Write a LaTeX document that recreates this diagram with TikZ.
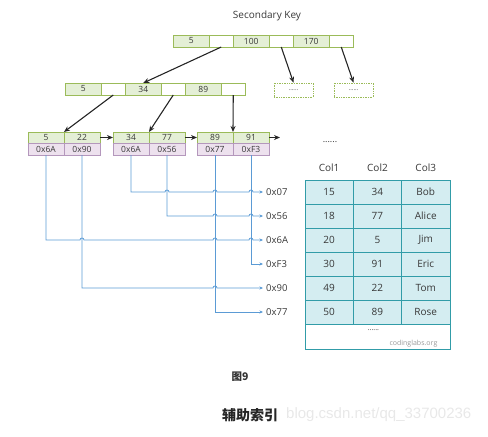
\documentclass[tikz,border=0pt]{standalone}
\usepackage{fontspec}
\setmainfont{Open Sans}
\newfontfamily\cjkfont{Noto Sans CJK SC}
\newfontfamily\markfont{Liberation Sans}
\usetikzlibrary{arrows.meta,positioning,calc}
\definecolor{keygreen}{HTML}{E4EFD6}
\definecolor{keygreendark}{HTML}{9BBB59}
\definecolor{ptrlilac}{HTML}{EDE1EE}
\definecolor{ptrlilacdark}{HTML}{B497BC}
\definecolor{rowcyan}{HTML}{D4EDF1}
\definecolor{rowcyandark}{HTML}{319CA8}
\definecolor{ptrblue}{HTML}{5B9BD5}
\definecolor{inkgray}{HTML}{383838}

\begin{document}
\begin{tikzpicture}[x=1pt, y=-1pt,
    font=\fontsize{8.5}{9}\selectfont, text=inkgray,
    keycell/.style={draw=keygreendark, fill=keygreen, line width=0.6pt, inner sep=0pt, outer sep=0pt, minimum width=36.5pt, minimum height=12pt},
    slotcell/.style={keycell, fill=white, minimum width=23.5pt},
    leafkey/.style={keycell, minimum width=36pt, minimum height=11pt},
    leafptr/.style={draw=ptrlilacdark, fill=ptrlilac, line width=0.6pt, inner sep=0pt, outer sep=0pt, minimum width=36pt, minimum height=12pt},
    morebox/.style={draw=keygreendark, densely dotted, line width=0.7pt, fill=white, minimum width=39pt, minimum height=14pt, inner sep=0pt, font=\fontsize{6}{7}\selectfont},
    rowcell/.style={draw=rowcyandark, fill=rowcyan, line width=0.8pt, inner sep=0pt, outer sep=0pt, minimum width=48.3pt, minimum height=24pt, font=\fontsize{10}{11}\selectfont},
    colhead/.style={font=\fontsize{10}{11}\selectfont},
    addr/.style={anchor=west, inner sep=3pt, font=\fontsize{9.5}{10}\selectfont},
    treearrow/.style={-{Stealth[length=6pt, width=5pt]}, line width=1.1pt, draw=black!85},
    ptrline/.style={-{Stealth[length=3.5pt, width=3pt]}, line width=0.8pt, draw=ptrblue}
  ]
    \useasboundingbox (0,0) rectangle (488,437);

    \node[font=\fontsize{10}{11}\selectfont] (title) at (267,16) {Secondary Key};

    % root
    \node[keycell, anchor=west] (t1) at (173,41) {5};
    \node[slotcell, right=0pt of t1] (t2) {};
    \node[keycell, right=0pt of t2] (t3) {100};
    \node[slotcell, right=0pt of t3] (t4) {};
    \node[keycell, right=0pt of t4] (t5) {170};
    \node[slotcell, right=0pt of t5] (t6) {};

    % inner level
    \node[keycell, anchor=west] (m1) at (65,89) {5};
    \node[slotcell, right=0pt of m1] (m2) {};
    \node[keycell, right=0pt of m2] (m3) {34};
    \node[slotcell, right=0pt of m3] (m4) {};
    \node[keycell, right=0pt of m4] (m5) {89};
    \node[slotcell, right=0pt of m5] (m6) {};
    \node[morebox] (d1) at (293.5,90) {......};
    \node[morebox] (d2) at (353.5,90) {......};

    % leaves
    \node[leafkey, anchor=north west] (l1k1) at (28,132) {5};
    \node[leafkey, right=0pt of l1k1] (l1k2) {22};
    \node[leafptr, below=0pt of l1k1] (l1p1) {0x6A};
    \node[leafptr, below=0pt of l1k2] (l1p2) {0x90};
    \node[leafkey, anchor=north west] (l2k1) at (113,132) {34};
    \node[leafkey, right=0pt of l2k1] (l2k2) {77};
    \node[leafptr, below=0pt of l2k1] (l2p1) {0x6A};
    \node[leafptr, below=0pt of l2k2] (l2p2) {0x56};
    \node[leafkey, anchor=north west] (l3k1) at (197,132) {89};
    \node[leafkey, right=0pt of l3k1] (l3k2) {91};
    \node[leafptr, below=0pt of l3k1] (l3p1) {0x77};
    \node[leafptr, below=0pt of l3k2] (l3p2) {0xF3};
    \coordinate[right=11pt of l3k2.east] (lnext);
    \node[font=\fontsize{9}{10}\selectfont] (more) at (330,142) {......};

    % row addresses
    \node[addr] (a07) at (263,192) {0x07};
    \node[addr] (a56) at (263,216) {0x56};
    \node[addr] (a6A) at (263,240) {0x6A};
    \node[addr] (aF3) at (263,264) {0xF3};
    \node[addr] (a90) at (263,288) {0x90};
    \node[addr] (a77) at (263,312) {0x77};

    % table
    \node[rowcell, anchor=north west] (c11) at (305,180) {15};
    \node[rowcell, right=0pt of c11] (c12) {34};
    \node[rowcell, right=0pt of c12] (c13) {Bob};
    \node[rowcell, below=0pt of c11] (c21) {18};
    \node[rowcell, right=0pt of c21] (c22) {77};
    \node[rowcell, right=0pt of c22] (c23) {Alice};
    \node[rowcell, below=0pt of c21] (c31) {20};
    \node[rowcell, right=0pt of c31] (c32) {5};
    \node[rowcell, right=0pt of c32] (c33) {Jim};
    \node[rowcell, below=0pt of c31] (c41) {30};
    \node[rowcell, right=0pt of c41] (c42) {91};
    \node[rowcell, right=0pt of c42] (c43) {Eric};
    \node[rowcell, below=0pt of c41] (c51) {49};
    \node[rowcell, right=0pt of c51] (c52) {22};
    \node[rowcell, right=0pt of c52] (c53) {Tom};
    \node[rowcell, below=0pt of c51] (c61) {50};
    \node[rowcell, right=0pt of c61] (c62) {89};
    \node[rowcell, right=0pt of c62] (c63) {Rose};
    \node[rowcell, fill=white, minimum width=144.9pt, minimum height=25pt, below right=0pt and 0pt of c61.south west] (tail) {};
    \node[font=\fontsize{7}{8}\selectfont] (taildots) at ($(tail.north)+(-4,6)$) {......};
    \node[text=black!40, font=\fontsize{7}{8}\selectfont] (codingmark) at ($(tail.south)+(36,-5)$) {codinglabs.org};
    \node[colhead, above=5pt of c11] (h1) {Col1};
    \node[colhead, above=5pt of c12] (h2) {Col2};
    \node[colhead, above=5pt of c13] (h3) {Col3};

    % captions
    \node[font=\cjkfont\bfseries\fontsize{10.5}{12}\selectfont, text=black!80] (fig) at (240,377) {图9};
    \node[font=\cjkfont\bfseries\fontsize{14}{16}\selectfont, text=black!85] (caption) at (250,415) {辅助索引};
    \node[font=\markfont\fontsize{15}{16}\selectfont, text=black!9, anchor=west, inner sep=1pt] (csdnmark) at (285,415) {blog.csdn.net/qq\_33700236};

    % tree links
    \draw[treearrow] (t2.south) -- (m3.north);
    \draw[treearrow] (t4.south) -- (d1.north);
    \draw[treearrow] (t6.south) -- (d2.north);
    \draw[treearrow] (m2.south) -- (l1k1.north east);
    \draw[treearrow] (m4.south) -- (l2k1.north east);
    \draw[treearrow] (m6.south) -- (l3k1.north east);
    \draw[treearrow] (l1k2.east) -- (l2k1.west);
    \draw[treearrow] (l2k2.east) -- (l3k1.west);
    \draw[treearrow] (l3k2.east) -- (lnext);

    % pointers into the table, hopping over crossings
    \draw[ptrline] (l2p1.south) |- ($(l2p2.south |- a07.west)+(-2pt,0)$) arc[start angle=180, end angle=0, radius=2pt]
      -- ($(l3p1.south |- a07.west)+(-2pt,0)$) arc[start angle=180, end angle=0, radius=2pt]
      -- ($(l3p2.south |- a07.west)+(-2pt,0)$) arc[start angle=180, end angle=0, radius=2pt] -- (a07.west);
    \draw[ptrline] (l2p2.south) |- ($(l3p1.south |- a56.west)+(-2pt,0)$) arc[start angle=180, end angle=0, radius=2pt]
      -- ($(l3p2.south |- a56.west)+(-2pt,0)$) arc[start angle=180, end angle=0, radius=2pt] -- (a56.west);
    \draw[ptrline] (l1p1.south) |- ($(l1p2.south |- a6A.west)+(-2pt,0)$) arc[start angle=180, end angle=0, radius=2pt]
      -- ($(l3p1.south |- a6A.west)+(-2pt,0)$) arc[start angle=180, end angle=0, radius=2pt]
      -- ($(l3p2.south |- a6A.west)+(-2pt,0)$) arc[start angle=180, end angle=0, radius=2pt] -- (a6A.west);
    \draw[ptrline] (l3p2.south) |- (aF3.west);
    \draw[ptrline] (l1p2.south) |- ($(l3p1.south |- a90.west)+(-2pt,0)$) arc[start angle=180, end angle=0, radius=2pt] -- (a90.west);
    \draw[ptrline] (l3p1.south) |- (a77.west);
  \end{tikzpicture}
\end{document}
